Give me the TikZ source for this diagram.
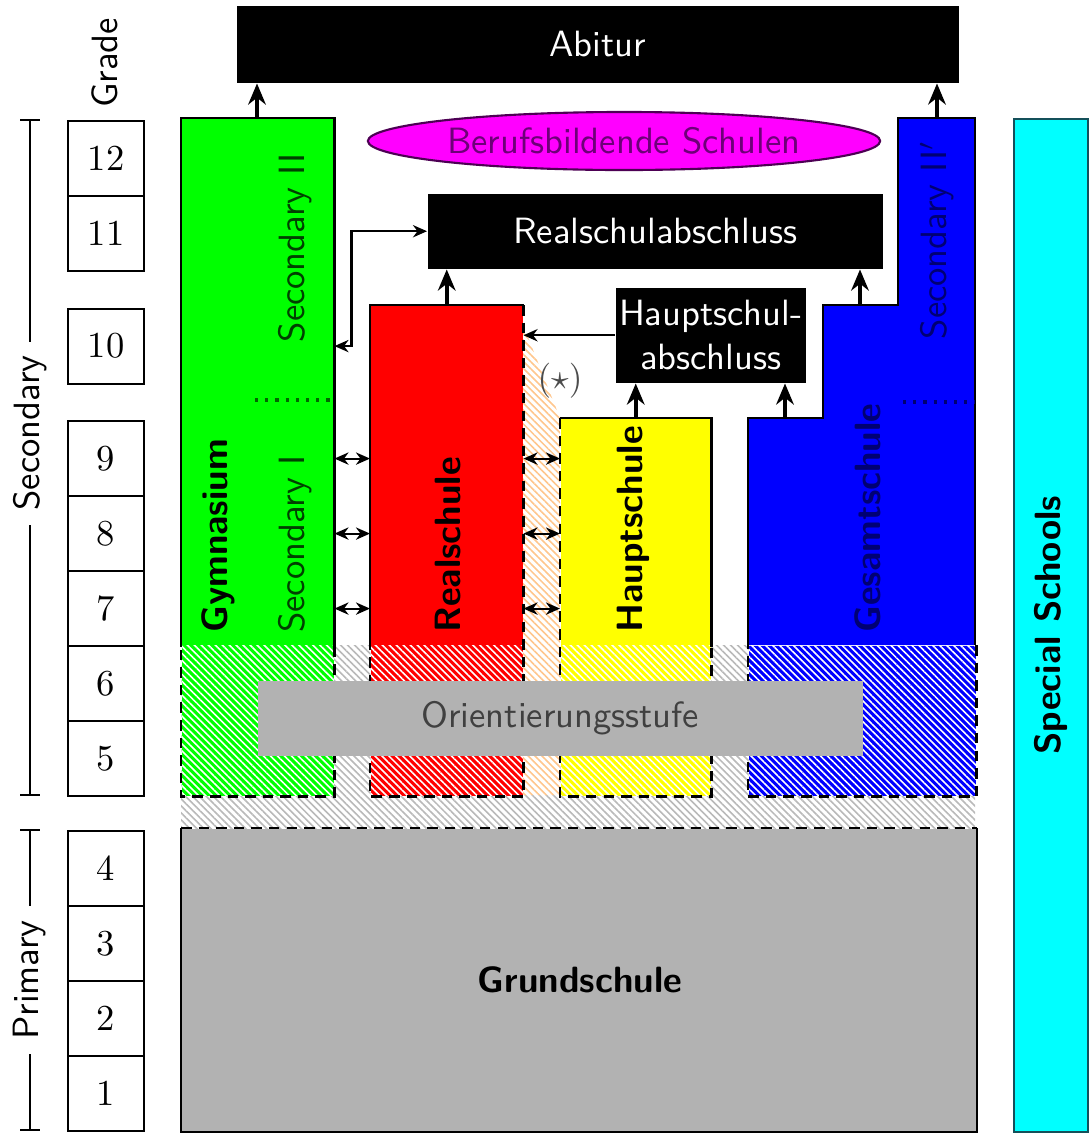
\documentclass[tikz,border=0pt]{standalone}
\usetikzlibrary{arrows.meta,patterns.meta,shapes.geometric}
\definecolor{mag}{RGB}{255,0,255}
\definecolor{magtext}{RGB}{110,0,120}
\definecolor{cy}{RGB}{0,255,255}
\definecolor{cyborder}{RGB}{20,80,90}
\definecolor{gr}{RGB}{0,255,0}
\definecolor{bl}{RGB}{0,0,255}
\definecolor{rd}{RGB}{255,0,0}
\definecolor{yl}{RGB}{255,255,0}
\begin{document}
\begin{tikzpicture}[x=0.01cm,y=-0.01cm,
  every node/.style={font=\sffamily\fontsize{10.4}{12.5}\selectfont},
  gradebox/.style={draw, line width=0.6pt, minimum width=0.76cm, minimum height=0.75cm, anchor=north west, inner sep=0pt, font=\rmfamily\fontsize{10.4}{12}\selectfont},
  blackbox/.style={fill=black, text=white, anchor=north west, inner sep=0pt},
  part/.style={anchor=north west, inner sep=0pt, fill=#1},
  lowpart/.style={anchor=north west, inner sep=0pt, minimum height=1.5cm, preaction={fill=#1}, pattern={Lines[angle=-45,distance=1.4pt,line width=0.45pt]}, pattern color=white},
  bgh/.style={pattern={Lines[angle=-45,distance=1.4pt,line width=0.45pt]}, pattern color=#1},
  outline/.style={line width=0.6pt},
  dline/.style={line width=0.6pt, densely dashed},
  thickarr/.style={-{Stealth[length=6pt,width=5pt]}, line width=1.2pt},
  thinarr/.style={{Stealth[length=4pt,width=3.5pt]}-{Stealth[length=4pt,width=3.5pt]}, line width=0.6pt},
  onearr/.style={-{Stealth[length=4pt,width=3.5pt]}, line width=0.6pt},
  vlabel/.style={rotate=90, anchor=west},
  bigname/.style={font=\sffamily\bfseries\fontsize{10.4}{12.5}\selectfont}
]
\useasboundingbox (0,0) rectangle (1089,1133);
\fill[white] (0,0) rectangle (1089,1133);

% background hatching
\path[bgh=gray!55] (181,645) rectangle (975,828);
\fill[white] (522,322) -- (560,418) -- (560,795) -- (522,795) -- cycle;
\path[bgh=orange!45] (522,322) -- (560,418) -- (560,795) -- (522,795) -- cycle;

% grade boxes
\node[gradebox] (g12) at (67,120) {12};
\node[gradebox] (g11) at (67,195) {11};
\node[gradebox] (g10) at (67,307.5) {10};
\node[gradebox] (g9) at (67,420) {9};
\node[gradebox] (g8) at (67,495) {8};
\node[gradebox] (g7) at (67,570) {7};
\node[gradebox] (g6) at (67,645) {6};
\node[gradebox] (g5) at (67,720) {5};
\node[gradebox] (g4) at (67,830) {4};
\node[gradebox] (g3) at (67,905) {3};
\node[gradebox] (g2) at (67,980) {2};
\node[gradebox] (g1) at (67,1055) {1};
\node[rotate=90] (grade) at (105,63) {Grade};

% brackets
\draw[outline] (20,120) -- (40,120) (30,120) -- (30,795) (20,795) -- (40,795);
\node[rotate=90, fill=white, inner xsep=4pt] (seclbl) at (30,433) {Secondary};
\draw[outline] (20,830) -- (40,830) (30,830) -- (30,1130) (20,1130) -- (40,1130);
\node[rotate=90, fill=white, inner xsep=4pt] (primlbl) at (30,980) {Primary};

% Abitur
\node[blackbox, minimum width=7.22cm, minimum height=0.77cm] (abitur) at (236,5) {};
\node[text=white] (abiturtxt) at (abitur.center) {Abitur};

% Gymnasium
\node[part=gr, minimum width=1.52cm, minimum height=5.27cm] (gym) at (181,118) {};
\node[lowpart=gr, minimum width=1.52cm] (gymlow) at (181,645) {};
\draw[outline] (gym.south west) |- (gym.north east) -- (gym.south east);
\draw[dline] (gym.south east) -- (gymlow.south east) -- (gymlow.south west) -- (gym.south west);
\draw[dotted, line width=0.9pt, green!40!black] (255,400) -- (gym.east |- 0,400);
\node[vlabel, bigname] (gymlbl) at (218,645) {Gymnasium};
\node[vlabel, text=green!25!black] (sec1) at (295,645) {Secondary I};
\node[rotate=90, text=green!25!black] (sec2) at (295,248) {Secondary II};

% Realschule
\node[part=rd, minimum width=1.52cm, minimum height=3.40cm] (real) at (370,305) {};
\node[lowpart=rd, minimum width=1.52cm] (reallow) at (370,645) {};
\draw[outline] (real.north east) -- (real.north west) -- (real.south west);
\draw[dline] (real.north east) -- (reallow.south east) -- (reallow.south west) -- (real.south west);
\node[vlabel, bigname] (reallbl) at (448,645) {Realschule};

% Hauptschule
\node[part=yl, minimum width=1.50cm, minimum height=2.27cm] (haupt) at (560,418) {};
\node[lowpart=yl, minimum width=1.50cm] (hauptlow) at (560,645) {};
\draw[outline] (haupt.north west) -- (haupt.north east) -- (haupt.south east);
\draw[dline] (haupt.north west) -- (hauptlow.south west) -- (hauptlow.south east) -- (haupt.south east);
\node[vlabel, bigname] (hauptlbl) at (633,645) {Hauptschule};
\node[text=black!70] (star) at (560,381) {$(\star)$};

% Gesamtschule
\fill[bl] (748,645) -- (748,418) -- (823,418) -- (823,305) -- (898,305) -- (898,118) -- (975,118) -- (975,645) -- cycle;
\node[lowpart=bl, minimum width=2.27cm] (gesamtlow) at (748,645) {};
\draw[outline] (748,645) -- (748,418) -- (823,418) -- (823,305) -- (898,305) -- (898,118) -- (975,118) -- (975,645);
\draw[dline] (gesamtlow.north east) -- (gesamtlow.south east) -- (gesamtlow.south west) -- (gesamtlow.north west);
\draw[dotted, line width=0.9pt, blue!45!black] (903,402) -- (975,402);
\node[vlabel, bigname, text=blue!45!black] (gesamtlbl) at (868,645) {Gesamtschule};
\node[rotate=90, text=blue!45!black] (sec2b) at (937,240) {Secondary II$'$};
\coordinate (ges1) at (785,418);
\coordinate (ges2) at (860,305);
\coordinate (ges3) at (937,118);

% Abschluss boxes
\node[blackbox, minimum width=4.55cm, minimum height=0.75cm] (rsa) at (427,193) {};
\node[text=white] (rsatxt) at (rsa.center) {Realschulabschluss};
\node[blackbox, minimum width=1.90cm, minimum height=0.95cm] (hsa) at (615,287) {};
\node[text=white, align=center] (hsatxt) at (hsa.center) {Hauptschul-\\abschluss};

% Berufsbildende Schulen
\node[ellipse, draw=magtext!70!black, line width=0.6pt, fill=mag, minimum width=5.12cm, minimum height=0.58cm, inner sep=0pt, text=magtext] (bbs) at (624,141) {Berufsbildende Schulen};

% Orientierungsstufe
\node[fill=gray!60, anchor=north west, minimum width=6.05cm, minimum height=0.75cm, inner sep=0pt] (orient) at (257,680) {};
\node[text=black!75] (orienttxt) at (orient.center) {Orientierungsstufe};

% Grundschule
\node[part=gray!60, minimum width=7.94cm, minimum height=3.02cm] (grund) at (181,828) {};
\draw[outline] (grund.north west) -- (grund.south west) -- (grund.south east) -- (grund.north east);
\draw[dline] (grund.north west) -- (grund.north east);
\node[bigname] (grundtxt) at (580,980) {Grundschule};

% Special Schools
\node[anchor=north west, fill=cy, draw=cyborder, line width=0.6pt, minimum width=0.74cm, minimum height=10.12cm, inner sep=0pt] (special) at (1013,118) {};
\node[rotate=90, bigname] (specialtxt) at (special.center) {Special Schools};

% arrows up
\coordinate (gymup) at (257,118);
\draw[thickarr] (gymup) -- (gymup |- abitur.south);
\draw[thickarr] (ges3) -- (ges3 |- abitur.south);
\draw[thickarr] (real.north) -- (real.north |- rsa.south);
\draw[thickarr] (ges2) -- (ges2 |- rsa.south);
\draw[thickarr] (haupt.north) -- (haupt.north |- hsa.south);
\draw[thickarr] (ges1) -- (ges1 |- hsa.south);

% side arrows
\draw[onearr] (hsa.west) -- (real.east |- hsa.west);
\draw[thinarr] (gym.east |- g10) -- ++(17,0) |- (rsa.west);
\foreach \g in {g9,g8,g7} {
  \draw[thinarr] (gym.east |- \g) -- (real.west |- \g);
  \draw[thinarr] (real.east |- \g) -- (haupt.west |- \g);
}
\end{tikzpicture}
\end{document}
